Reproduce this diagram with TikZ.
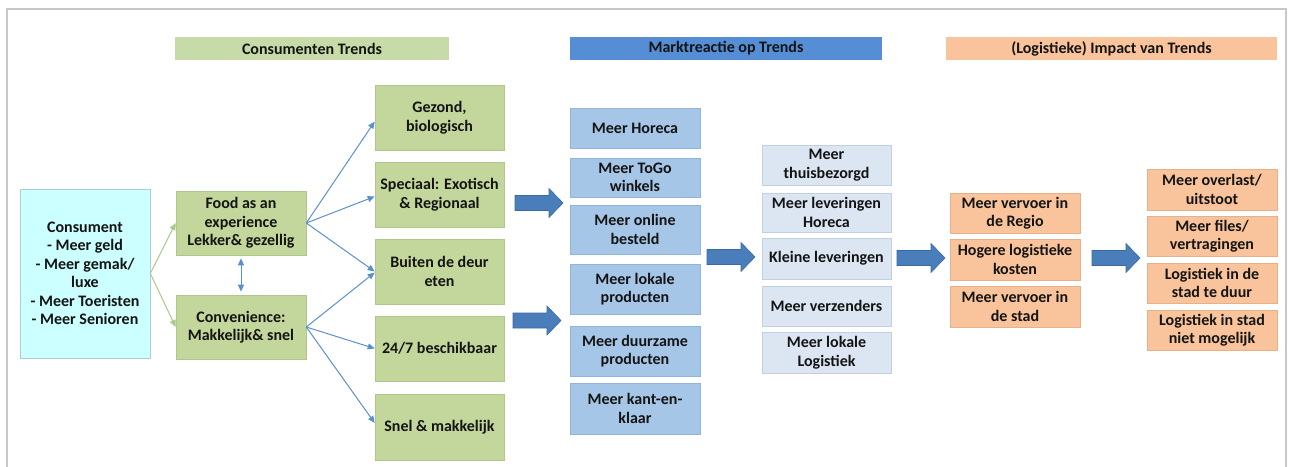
\documentclass[tikz,border=0pt]{standalone}
\usepackage{fontspec}
\setmainfont{Carlito}
\usetikzlibrary{arrows.meta}
\definecolor{gfill}{HTML}{C3D69B}
\definecolor{gedge}{HTML}{B0C78A}
\definecolor{ghead}{HTML}{C7DBA8}
\definecolor{cfill}{HTML}{CCFFFF}
\definecolor{cedge}{HTML}{A8CFD8}
\definecolor{bhead}{HTML}{558ED5}
\definecolor{bfill}{HTML}{A6C6E8}
\definecolor{bedge}{HTML}{92B4DA}
\definecolor{lfill}{HTML}{DCE6F2}
\definecolor{ledge}{HTML}{C2CFDE}
\definecolor{ofill}{HTML}{F9C49C}
\definecolor{oedge}{HTML}{E6B08A}
\definecolor{arr}{HTML}{5B8FCC}
\definecolor{garr}{HTML}{A9C98A}
\definecolor{barfill}{HTML}{4A7EBB}
\definecolor{baredge}{HTML}{3B6AA0}
\definecolor{txt}{HTML}{141414}
\definecolor{frame}{HTML}{C8C8C8}
\tikzset{
  box/.style={rectangle, inner sep=1pt, align=center, text=txt,
    font=\fontsize{16}{18.5}\selectfont\bfseries, line width=0.6pt},
  gbox/.style={box, fill=gfill, draw=gedge, minimum width=129pt, minimum height=65pt},
  cbox/.style={box, fill=cfill, draw=cedge},
  bbox/.style={box, fill=bfill, draw=bedge, minimum width=130pt},
  lbox/.style={box, fill=lfill, draw=ledge, minimum width=129pt},
  obox/.style={box, fill=ofill, draw=oedge, minimum width=130pt},
  hdr/.style={box, minimum height=23pt, font=\fontsize{16}{18}\selectfont\bfseries},
  thin/.style={draw=arr, line width=1pt, -{Triangle[width=6pt,length=7pt]}},
  gthin/.style={draw=garr, line width=1pt, -{Triangle[width=6pt,length=7pt]}},
  barrow/.pic={\draw[fill=barfill, draw=baredge, line width=0.6pt]
     (0,-7.5) -- (34,-7.5) -- (34,-14.5) -- (48,0) -- (34,14.5) -- (34,7.5) -- (0,7.5) -- cycle;}
}
\begin{document}
\begin{tikzpicture}[x=1pt,y=-1pt]
\useasboundingbox (0,0) rectangle (1293,466);
\draw[frame, line width=2pt] (7,480) -- (7,9) -- (1286,9) -- (1286,480);

% headers
\node[hdr, fill=ghead, minimum width=274pt] (h1) at (312,48.5) {Consumenten Trends};
\node[hdr, fill=bhead, minimum width=312pt] (h2) at (726,48.5) {Marktreactie op Trends};
\node[hdr, fill=ofill, minimum width=331pt] (h3) at (1111.5,48.5) {(Logistieke) Impact van Trends};

% consument
\node[cbox, minimum width=130pt, minimum height=169pt] (cons) at (85,273.5)
  {Consument\\- Meer geld\\- Meer gemak/\\luxe\\- Meer Toeristen\\- Meer Senioren};
\node[gbox, minimum width=130pt, minimum height=64pt] (food) at (241,223)
  {Food as an\\experience\\Lekker\& gezellig};
\node[gbox, minimum width=130pt, minimum height=64pt] (conv) at (241,327)
  {Convenience:\\Makkelijk\& snel};

% green column
\node[gbox] (gez) at (439.5,117.5) {Gezond,\\biologisch};
\node[gbox] (spe) at (439.5,194.5) {Speciaal: Exotisch\\\& Regionaal};
\node[gbox] (bui) at (439.5,271.5) {Buiten de deur\\eten};
\node[gbox] (alt) at (439.5,348.5) {24/7 beschikbaar};
\node[gbox, minimum height=66pt] (snel) at (439.5,427) {Snel \& makkelijk};

% blue column
\node[bbox, minimum height=40pt] (hor) at (635,128) {Meer Horeca};
\node[bbox, minimum height=39pt] (togo) at (635,177.5) {Meer ToGo\\winkels};
\node[bbox, minimum height=49pt] (onl) at (635,229.5) {Meer online\\besteld};
\node[bbox, minimum height=50pt] (lok) at (635,289) {Meer lokale\\producten};
\node[bbox, minimum height=50pt] (duur) at (635,351) {Meer duurzame\\producten};
\node[bbox, minimum height=51pt] (kant) at (635,408.5) {Meer kant-en-\\klaar};

% light blue column
\node[lbox, minimum height=40pt] (thuis) at (826.5,165) {Meer\\thuisbezorgd};
\node[lbox, minimum height=39pt] (lev) at (826.5,212.5) {Meer leveringen\\Horeca};
\node[lbox, minimum height=41pt] (klein) at (826.5,258.5) {Kleine leveringen};
\node[lbox, minimum height=40pt] (verz) at (826.5,306) {Meer verzenders};
\node[lbox, minimum height=41pt] (lokl) at (826.5,352.5) {Meer lokale\\Logistiek};

% orange column 1
\node[obox, minimum height=40pt] (regio) at (1015,213) {Meer vervoer in\\de Regio};
\node[obox, minimum height=41pt] (hog) at (1015,259.5) {Hogere logistieke\\kosten};
\node[obox, minimum height=41pt] (stad) at (1015,306.5) {Meer vervoer in\\de stad};

% orange column 2
\node[obox, minimum height=41pt] (over) at (1212,189.5) {Meer overlast/\\uitstoot};
\node[obox, minimum height=40pt] (files) at (1212,236) {Meer files/\\vertragingen};
\node[obox, minimum height=40pt] (tedu) at (1212,283) {Logistiek in de\\stad te duur};
\node[obox, minimum height=40pt] (niet) at (1212,330) {Logistiek in stad\\niet mogelijk};

% thin connectors
\draw[gthin] (cons.east) -- (food.west);
\draw[gthin] (cons.east) -- (conv.west);
\draw[thin] (food.east) -- ([yshift=-4pt]gez.west);
\draw[thin] (food.east) -- ([yshift=-2pt]spe.west);
\draw[thin] (food.east) -- (bui.west);
\draw[thin] (conv.east) -- ([yshift=-1pt]bui.west);
\draw[thin] (conv.east) -- (alt.west);
\draw[thin] (conv.east) -- ([yshift=4pt]snel.west);
\draw[thin, {Triangle[width=6pt,length=7pt]}-{Triangle[width=6pt,length=7pt]}, shorten <=3pt, shorten >=3pt] (food.south) -- (conv.north);

% block arrows
\pic at (515,203) {barrow};
\pic at (513,320.5) {barrow};
\pic at (707,257) {barrow};
\pic at (897,258) {barrow};
\pic at (1092,258) {barrow};
\end{tikzpicture}
\end{document}
